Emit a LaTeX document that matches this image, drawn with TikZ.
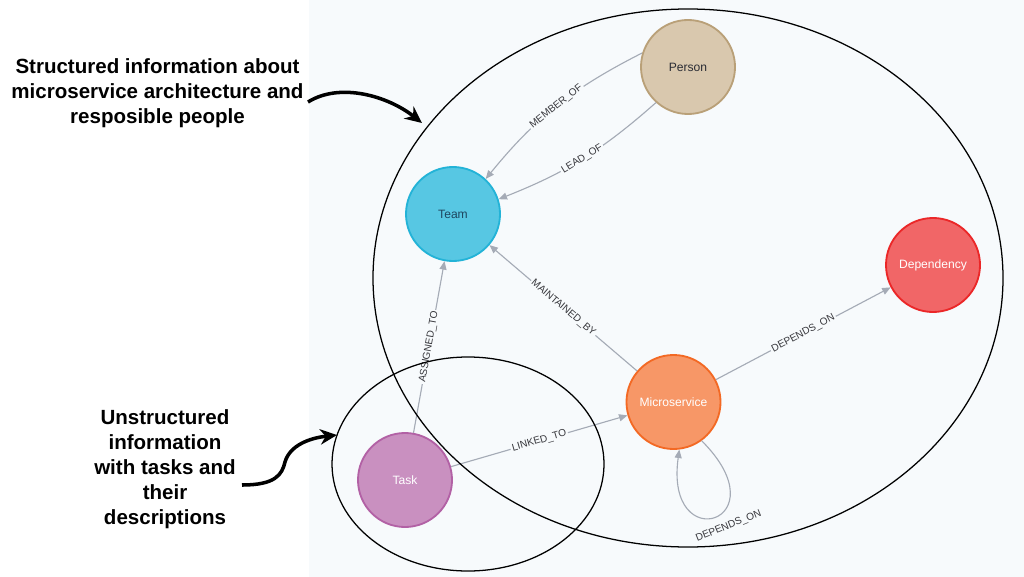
\documentclass[tikz,border=0pt]{standalone}
\usepackage{fontspec}
\setmainfont{Liberation Sans}
\usetikzlibrary{positioning,arrows.meta,shapes.geometric}
\definecolor{bgpane}{RGB}{247,250,252}
\definecolor{relgray}{RGB}{165,171,182}
\definecolor{lbltext}{RGB}{55,55,60}
\definecolor{personfill}{RGB}{217,200,174}
\definecolor{persondraw}{RGB}{185,160,120}
\definecolor{persontext}{RGB}{42,44,52}
\definecolor{teamfill}{RGB}{87,199,227}
\definecolor{teamdraw}{RGB}{35,179,215}
\definecolor{teamtext}{RGB}{30,70,95}
\definecolor{depfill}{RGB}{241,102,103}
\definecolor{depdraw}{RGB}{235,39,40}
\definecolor{msfill}{RGB}{247,151,103}
\definecolor{msdraw}{RGB}{243,105,36}
\definecolor{taskfill}{RGB}{201,144,192}
\definecolor{taskdraw}{RGB}{178,97,165}
\tikzset{gnode/.style={circle, inner sep=0pt, minimum size=2.35cm, line width=1.3pt, font=\fontsize{8.6}{10}\selectfont}}
\tikzset{rel/.style={draw=relgray, line width=0.8pt, -{Triangle[length=6pt,width=5pt]}}}
\tikzset{lbl/.style={font=\fontsize{7.2}{8}\selectfont, text=lbltext, fill=bgpane, inner sep=1.2pt}}
\tikzset{group/.style={draw=black, line width=0.9pt}}
\tikzset{note/.style={font=\bfseries\fontsize{14.6}{17.7}\selectfont, align=center, inner sep=0pt}}
\tikzset{callout/.style={draw=black, line width=2.5pt, -{Stealth[length=12pt,width=11pt]}}}
\begin{document}
\begin{tikzpicture}[x=0.025cm, y=0.025cm]
  \useasboundingbox (0,0) rectangle (1024,-577);
  \fill[bgpane] (309,0) rectangle (1024,-577);
  % graph
  \node[gnode, draw=persondraw, fill=personfill, text=persontext] (Pe) at (688,-67) {Person};
  \node[gnode, draw=teamdraw, fill=teamfill, text=teamtext] (Te) at (453,-214) {Team};
  \node[gnode, draw=depdraw, fill=depfill, text=white] (De) at (933,-265) {Dependency};
  \node[gnode, draw=msdraw, fill=msfill, text=white] (Mi) at (673.5,-402) {Microservice};
  \node[gnode, draw=taskdraw, fill=taskfill, text=white] (Ta) at (405,-480) {Task};
  \draw[rel] (Pe.163) to[bend right=12] node[lbl, sloped]{MEMBER\_OF} (Te.47);
  \draw[rel] (Pe.228) to[bend left=10] node[lbl, sloped]{LEAD\_OF} (Te.18);
  \draw[rel] (Ta) -- node[lbl, sloped]{ASSIGNED\_TO} (Te);
  \draw[rel] (Mi) -- node[lbl, sloped]{MAINTAINED\_BY} (Te);
  \draw[rel] (Ta) -- node[lbl, sloped]{LINKED\_TO} (Mi);
  \draw[rel] (Mi) -- node[lbl, sloped]{DEPENDS\_ON} (De);
  \draw[rel] (Mi.-54) .. controls +(-45:115) and +(-98:110) ..
    node[lbl, pos=.5, anchor=north, rotate=22, xshift=0.22cm, yshift=-0.18cm]{DEPENDS\_ON} (Mi.-83);
  % groups
  \draw[group] (688,-278) ellipse [x radius=315, y radius=269];
  \draw[group] (468,-464) ellipse [x radius=136, y radius=107];
  % notes
  \node[note] (N1) at (157.5,-93) {Structured information about\\microservice architecture and\\resposible people};
  \node[note] (N2) at (165,-469) {Unstructured\\information\\with tasks and\\their\\descriptions};
  \coordinate (c1) at (308,-102);
  \coordinate (g1) at (422,-123);
  \draw[callout] (c1) .. controls (340,-82) and (388,-96) .. (g1);
  \coordinate (c2) at (242,-485);
  \coordinate (g2) at (337,-435);
  \draw[callout] (c2) .. controls (275,-485) and (282,-475) .. (285,-462)
    .. controls (290,-445) and (310,-438) .. (g2);
\end{tikzpicture}
\end{document}
